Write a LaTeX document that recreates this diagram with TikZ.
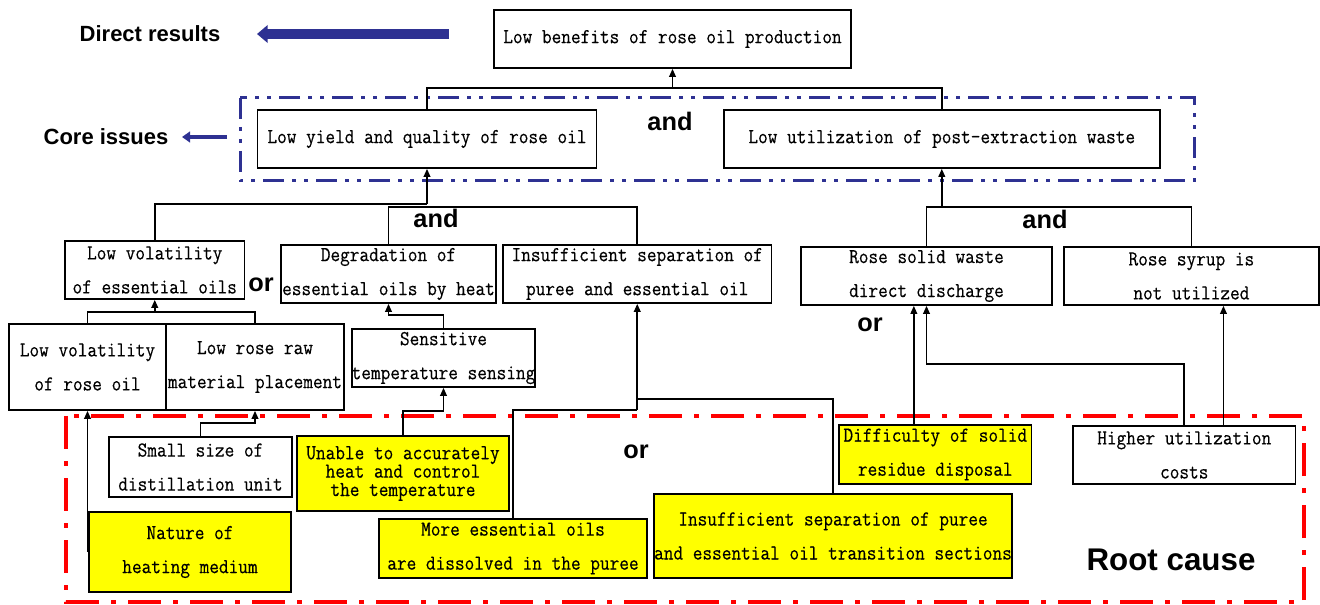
\documentclass[tikz,border=0pt]{standalone}
\usepackage{fontspec}
\usetikzlibrary{arrows.meta}
\newfontfamily\boxfont{Latin Modern Mono}[FakeStretch=0.88,FakeBold=0.35]
\newfontfamily\labfont{Liberation Sans}
\definecolor{navy}{RGB}{46,49,146}
\definecolor{ylw}{RGB}{255,255,0}
\newcommand\zl[1]{\makebox[0pt][c]{#1}}
\begin{document}
\begin{tikzpicture}[x=0.75pt,y=-0.75pt,
  box/.style={draw=black, line width=1.3pt, inner sep=0pt, align=center, fill=white,
    font=\boxfont\fontsize{16pt}{25.5pt}\selectfont},
  ybox/.style={box, fill=ylw},
  sz/.style 2 args={minimum width=#1*0.75pt, minimum height=#2*0.75pt},
  conn/.style={draw=black, line width=1.2pt},
  arr/.style={conn, -{Triangle[length=6pt,width=5pt]}},
  lab/.style={font=\labfont\bfseries\fontsize{16.5pt}{20pt}\selectfont},
  logic/.style={font=\labfont\bfseries\fontsize{19pt}{22pt}\selectfont},
  bigarr/.style={draw=navy, line width=7.5pt, -{Triangle[length=8pt,width=13pt]}},
  smallarr/.style={draw=navy, line width=3.5pt, -{Triangle[length=6pt,width=8pt]}},
  redframe/.style={draw=red, line width=3pt, dash pattern=on 24.75pt off 9pt on 3.75pt off 9pt},
  blueframe/.style={draw=navy, line width=2.25pt, dash pattern=on 15.75pt off 6pt on 3pt off 6pt on 3pt off 6pt}
]
\useasboundingbox (0,0) rectangle (1320,605);
\fill[white] (0,0) rectangle (1320,605);

% frames
\draw[blueframe] (240,98) rectangle (1194,181);
\draw[redframe] (66,416) rectangle (1304,602);

% labels
\node[lab] (dr) at (150,34) {Direct results};
\node[lab] (ci) at (106,137) {Core issues};
\node[font=\labfont\bfseries\fontsize{23.5pt}{28pt}\selectfont] (rc) at (1171,560) {Root cause};
\coordinate (dtail) at (449,34); \coordinate (dtip) at (257,34);
\draw[bigarr] (dtail) -- (dtip);
\coordinate (ctail) at (227,137); \coordinate (ctip) at (182,137);
\draw[smallarr] (ctail) -- (ctip);

% boxes
\node[box, sz={357}{58}] (top) at (672.5,39) {Low benefits of rose oil production};
\node[box, sz={339}{58}] (ly) at (427,139) {Low yield and quality of rose oil};
\node[box, sz={436}{58}] (lu) at (941.8,139) {Low utilization of post-extraction waste};
\node[box, sz={179.5}{58}] (lve) at (154.75,270) {Low volatility\\of essential oils};
\node[box, sz={215}{58}] (deg) at (388.5,274) {Degradation of\\\zl{essential oils by heat}};
\node[box, sz={268.5}{58}] (ins) at (637.25,274) {Insufficient separation of\\puree and essential oil};
\node[box, sz={251}{58}] (rsw) at (926.5,276) {Rose solid waste\\direct discharge};
\node[box, sz={254.7}{58}] (rsy) at (1191.4,276) {Rose syrup is\\not utilized};
\node[box, sz={157}{86}] (lvr) at (87.5,367) {Low volatility\\of rose oil};
\node[box, sz={178}{86}] (lrr) at (255,367) {Low rose raw\\\zl{material placement}};
\node[box, sz={183}{58}] (sen) at (443.5,358) {Sensitive\\\zl{temperature sensing}};
\node[box, sz={183}{59.5}] (sma) at (200.5,467) {Small size of\\distillation unit};
\node[ybox, sz={212}{75}, font=\boxfont\fontsize{16pt}{13.8pt}\selectfont] (una) at (403,473.5) {Unable to accurately\\heat and control\\the temperature};
\node[ybox, sz={202}{80}] (nat) at (190,552) {Nature of\\heating medium};
\node[ybox, sz={268}{59}] (mor) at (513,548.5) {More essential oils\\are dissolved in the puree};
\node[ybox, sz={358}{84}] (ist) at (833,536) {Insufficient separation of puree\\\zl{and essential oil transition sections}};
\node[ybox, sz={192.6}{59}] (dif) at (935.3,454.5) {Difficulty of solid\\residue disposal};
\node[box, sz={222.5}{58}] (hig) at (1184.25,455) {Higher utilization\\costs};

% logic labels
\node[logic] (and1) at (670,121) {and};
\node[logic] (and2) at (436,218) {and};
\node[logic] (and3) at (1045,219) {and};
\node[logic] (or1) at (261,285) {or};
\node[logic] (or2) at (870,325) {or};
\node[logic] (or3) at (636,452) {or};

% connectors
\coordinate (j1) at (672.5,88);
\draw[conn] (ly.north) |- (j1) -| (lu.north);
\draw[arr] (j1) -- (top.south);
\coordinate (j2) at (427,204);
\draw[arr] (j2) -- (ly.south);
\draw[conn] (lve.north) |- (j2);
\coordinate (j3) at (500,207);
\draw[conn] (deg.north) |- (j3) -| (ins.north);
\coordinate (j4) at (941.8,207);
\draw[arr] (j4) -- (lu.south);
\draw[conn] (rsw.north) |- (j4) -| (rsy.north);
\coordinate (j5) at (154.75,312);
\draw[arr] (j5) -- (lve.south);
\draw[conn] (lvr.north) |- (j5) -| (lrr.north);
\draw[arr] (sen.north) -- ++(0,-13) -| (deg.south);
\coordinate (j6) at (637.25,399);
\coordinate (j7) at (637.25,410);
\draw[arr] (j7) -- (ins.south);
\draw[conn] (ist.north) |- (j6);
\draw[conn] (mor.north) |- (j7);
\draw[arr] (una.north) -- ++(0,-24) -| (sen.south);
\draw[arr] (sma.north) -- ++(0,-13.5) -| (lrr.south);
\draw[arr] (lvr.south |- nat.west) -- (lvr.south);
\coordinate (d1) at ([xshift=-16.1pt]dif.north);
\draw[arr] (d1) -- (d1 |- rsw.south);
\draw[arr] (hig.north) -- ++(0,-61) -| (rsw.south);
\coordinate (h1) at ([xshift=29.4pt]hig.north);
\draw[arr] (h1) -- (h1 |- rsy.south);
\end{tikzpicture}
\end{document}
